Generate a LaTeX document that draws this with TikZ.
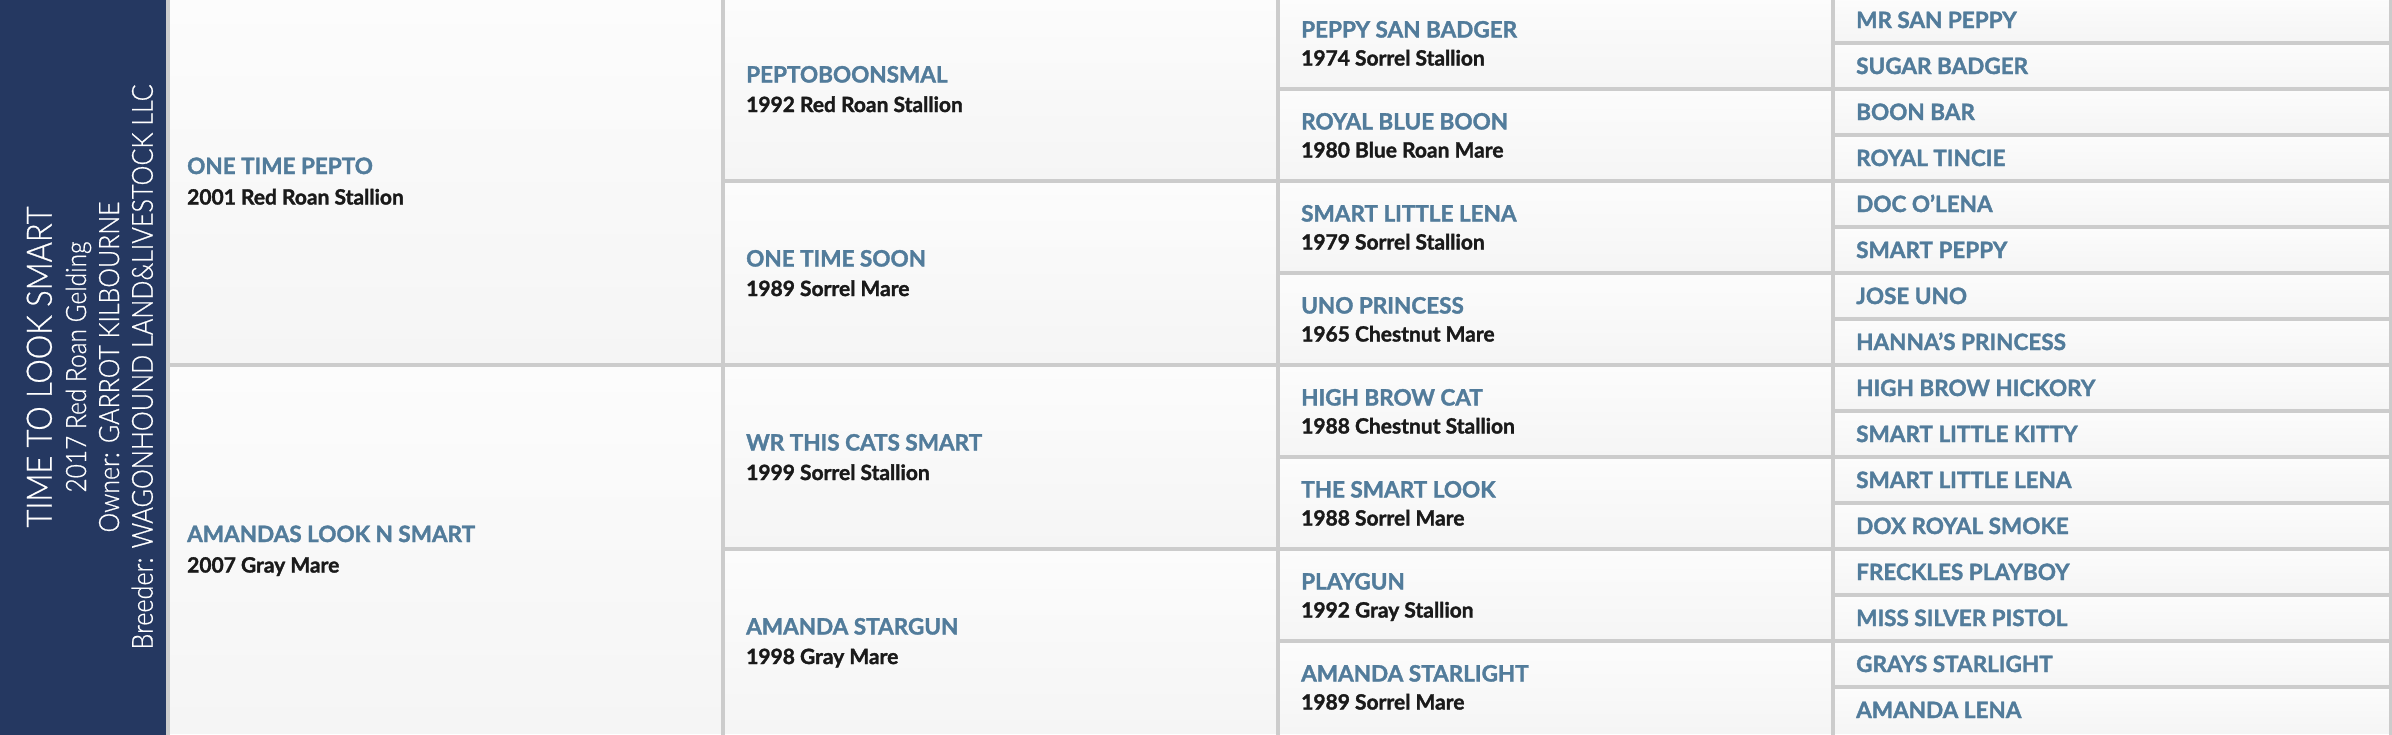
\documentclass[tikz,border=0pt]{standalone}
\usepackage{fontspec}
\usepackage{graphicx}
\setmainfont{Lato}[BoldFeatures={FakeBold=1.6}]
\newfontfamily\panelfont{Lato Light}[FakeBold=0.8]
\definecolor{panelc}{HTML}{253861}
\definecolor{namec}{HTML}{527C9B}
\definecolor{subc}{HTML}{1A1A1A}
\definecolor{gridc}{HTML}{CCCCCC}
\definecolor{cellt}{HTML}{FCFCFC}
\definecolor{cellb}{HTML}{F5F5F5}
\tikzset{
  cell/.style={anchor=north west, inner sep=0pt, outer sep=0pt, top color=cellt, bottom color=cellb, draw=none, minimum width=555pt},
  gridline/.style={draw=gridc, line width=3.7pt},
  nm/.style={anchor=base west, inner sep=0pt, text=namec, font=\fontsize{22.5}{27}\selectfont\bfseries},
  sb/.style={anchor=base west, inner sep=0pt, text=subc, font=\fontsize{21}{25}\selectfont\bfseries},
  ptext/.style={rotate=90, anchor=base, inner sep=0pt, text=white},
}
\begin{document}
\begin{tikzpicture}[x=1pt,y=-1pt]
\useasboundingbox (0,0) rectangle (2392,734);
\clip (0,0) rectangle (2392,734);
\fill[cellb] (0,0) rectangle (2392,734);
% left panel
\node[fill=panelc, anchor=north west, inner sep=0pt, outer sep=0pt, minimum width=166pt, minimum height=745pt] (panel) at (0,-3) {};
\node[ptext, font=\panelfont\fontsize{35}{40}\selectfont] (title) at (51.7,367) {\resizebox{321pt}{\height}{TIME TO LOOK SMART}};
\node[ptext, font=\panelfont\fontsize{28}{32}\selectfont] (foal) at (86,367) {\resizebox{251pt}{\height}{2017 Red Roan Gelding}};
\node[ptext, font=\panelfont\fontsize{28}{32}\selectfont] (owner) at (119,367) {\resizebox{331pt}{\height}{Owner: GARROT KILBOURNE}};
\node[ptext, font=\panelfont\fontsize{29}{33}\selectfont] (breeder) at (152.7,367) {\resizebox{565pt}{\height}{Breeder: WAGONHOUND LAND\&LIVESTOCK LLC}};
% column 1
\foreach \n/\s [count=\i from 0] in {ONE TIME PEPTO/2001 Red Roan Stallion, AMANDAS LOOK N SMART/2007 Gray Mare} {
  \node[cell, minimum height=368pt] (c1-\i) at (168,{-3+368*\i}) {};
  \node[nm] (n1-\i) at ([shift={(19pt,7pt)}]c1-\i.west) {\n};
  \node[sb] (s1-\i) at ([shift={(19pt,-23.5pt)}]c1-\i.west) {\s};
}
% column 2
\foreach \n/\s [count=\i from 0] in {PEPTOBOONSMAL/1992 Red Roan Stallion, ONE TIME SOON/1989 Sorrel Mare, WR THIS CATS SMART/1999 Sorrel Stallion, AMANDA STARGUN/1998 Gray Mare} {
  \node[cell, minimum height=184pt] (c2-\i) at (723,{-3+184*\i}) {};
  \node[nm] (n2-\i) at ([shift={(23pt,6.5pt)}]c2-\i.west) {\n};
  \node[sb] (s2-\i) at ([shift={(23pt,-23pt)}]c2-\i.west) {\s};
}
% column 3
\foreach \n/\s [count=\i from 0] in {PEPPY SAN BADGER/1974 Sorrel Stallion, ROYAL BLUE BOON/1980 Blue Roan Mare, SMART LITTLE LENA/1979 Sorrel Stallion, UNO PRINCESS/1965 Chestnut Mare, HIGH BROW CAT/1988 Chestnut Stallion, THE SMART LOOK/1988 Sorrel Mare, PLAYGUN/1992 Gray Stallion, AMANDA STARLIGHT/1989 Sorrel Mare} {
  \node[cell, minimum height=92pt] (c3-\i) at (1278,{-3+92*\i}) {};
  \node[nm] (n3-\i) at ([shift={(23pt,5.5pt)}]c3-\i.west) {\n};
  \node[sb] (s3-\i) at ([shift={(23pt,-22.5pt)}]c3-\i.west) {\s};
}
% column 4
\foreach \n [count=\i from 0] in {MR SAN PEPPY, SUGAR BADGER, BOON BAR, ROYAL TINCIE, DOC O'LENA, SMART PEPPY, JOSE UNO, HANNA'S PRINCESS, HIGH BROW HICKORY, SMART LITTLE KITTY, SMART LITTLE LENA, DOX ROYAL SMOKE, FRECKLES PLAYBOY, MISS SILVER PISTOL, GRAYS STARLIGHT, AMANDA LENA} {
  \node[cell, minimum height=46pt, minimum width=558pt] (c4-\i) at (1833,{-3+46*\i}) {};
  \node[nm] (n4-\i) at ([shift={(23pt,-8pt)}]c4-\i.west) {\n};
}
% grid lines
\foreach \c in {c1-0.north west, c2-0.north west, c3-0.north west, c4-0.north west, c4-0.north east}
  \draw[gridline] (\c) -- ++(0,750);
\draw[gridline] (c1-0.south west) -- (c1-0.south east);
\foreach \i in {0,1,2} \draw[gridline] (c2-\i.south west) -- (c2-\i.south east);
\foreach \i in {0,...,6} \draw[gridline] (c3-\i.south west) -- (c3-\i.south east);
\foreach \i in {0,...,14} \draw[gridline] (c4-\i.south west) -- (c4-\i.south east);
\end{tikzpicture}
\end{document}
